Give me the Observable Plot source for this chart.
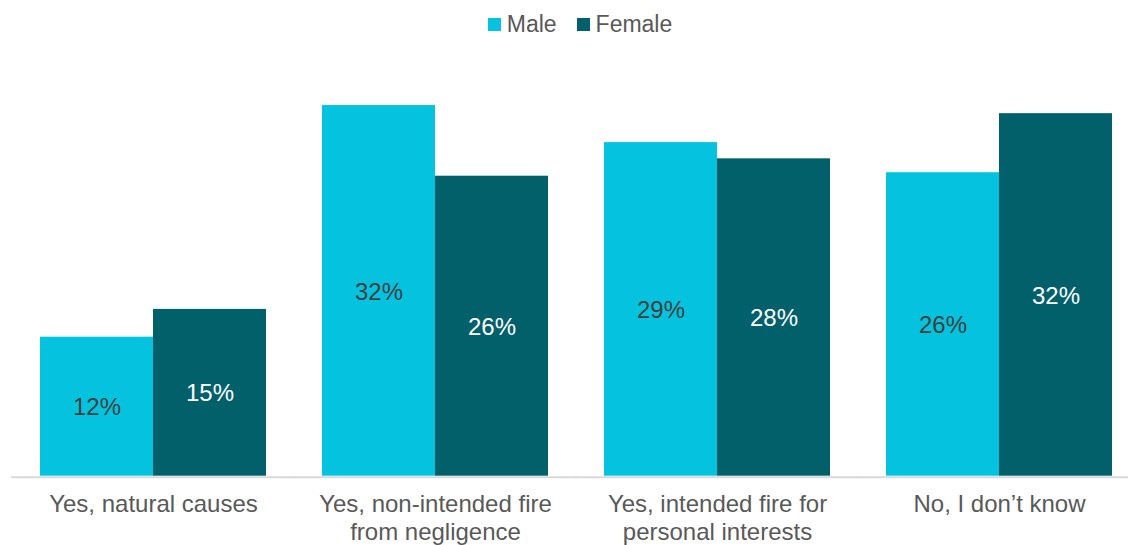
<!DOCTYPE html>
<html>
<head>
<meta charset="utf-8">
<script src="https://cdn.jsdelivr.net/npm/d3@7"></script>
<script src="https://cdn.jsdelivr.net/npm/@observablehq/plot@0.6"></script>
<style>
  html, body { margin: 0; padding: 0; background: #ffffff; }
  body { width: 1128px; height: 545px; overflow: hidden; font-family: "Liberation Sans", Arial, sans-serif; }
  #legend { height: 48px; display: flex; justify-content: center; align-items: center; padding-left: 32px; box-sizing: border-box; font-size: 23px; color: #595959; }
  .item { display: flex; align-items: center; margin: 0 10px; }
  .sw { width: 13px; height: 13px; margin-right: 6px; }
</style>
</head>
<body>
<div id="legend"></div>
<div id="chart"></div>
<script>
const categories = [
  "Yes, natural causes",
  "Yes, non-intended fire\nfrom negligence",
  "Yes, intended fire for\npersonal interests",
  "No, I don\u2019t know"
];
const genders = ["Male", "Female"];
const maleValues = [12.0, 32.0, 28.8, 26.2];
const femaleValues = [14.4, 25.9, 27.4, 31.3];
const maleLabels = ["12%", "32%", "29%", "26%"];
const femaleLabels = ["15%", "26%", "28%", "32%"];
const colors = ["#05c3de", "#02606b"];
const labelColors = ["#404040", "#ffffff"];

const data = [];
categories.forEach((c, i) => {
  data.push({category: c, gender: "Male", value: maleValues[i], label: maleLabels[i]});
  data.push({category: c, gender: "Female", value: femaleValues[i], label: femaleLabels[i]});
});

// legend
const legend = document.getElementById("legend");
genders.forEach((g, i) => {
  const item = document.createElement("div");
  item.className = "item";
  const sw = document.createElement("div");
  sw.className = "sw";
  sw.style.background = colors[i];
  const t = document.createElement("span");
  t.textContent = g;
  item.appendChild(sw);
  item.appendChild(t);
  legend.appendChild(item);
});

const chart = Plot.plot({
  width: 1128,
  height: 497,
  marginLeft: 25,
  marginRight: 2,
  marginTop: 22.3,
  marginBottom: 69.3,
  style: {fontFamily: "'Liberation Sans', Arial, sans-serif", background: "#ffffff"},
  fx: {domain: categories, paddingInner: 0.2, paddingOuter: 0.05, label: null},
  x: {domain: genders, padding: 0, axis: null},
  y: {domain: [0, 35], axis: null},
  color: {domain: genders, range: colors},
  marks: [
    Plot.barY(data, {fx: "category", x: "gender", y: "value", fill: "gender"}),
    Plot.ruleY([0], {stroke: "#d9d9d9", strokeWidth: 2, dy: 1, insetLeft: -29, insetRight: -29}),
    Plot.text(data.filter(d => d.gender === "Male"), {fx: "category", x: "gender", y: d => d.value / 2, text: "label", fill: labelColors[0], fontSize: 24, dy: 1}),
    Plot.text(data.filter(d => d.gender === "Female"), {fx: "category", x: "gender", y: d => d.value / 2, text: "label", fill: labelColors[1], fontSize: 24, dy: 1}),
    Plot.axisFx({anchor: "bottom", tickSize: 0, tickPadding: 17, fontSize: 24, lineHeight: 1.13, fill: "#595959", label: null})
  ]
});
document.getElementById("chart").appendChild(chart);
</script>
</body>
</html>
